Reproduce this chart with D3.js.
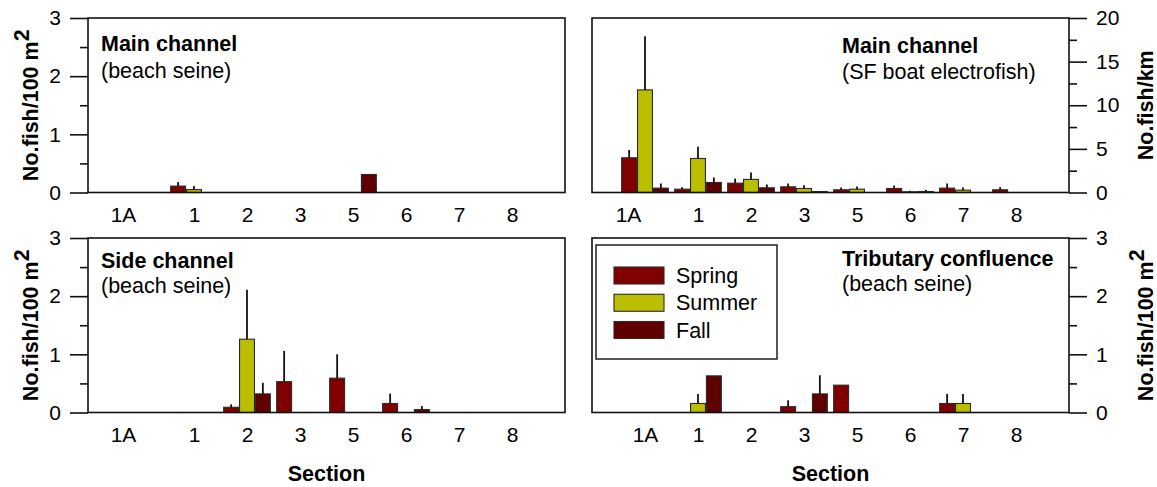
<!DOCTYPE html>
<html><head><meta charset="utf-8">
<script src="https://cdn.jsdelivr.net/npm/d3@7"></script>
<style>
body{margin:0;background:#fff}
svg{display:block}
text{font-family:"Liberation Sans",Arial,sans-serif;fill:#000}
</style>
</head><body>
<svg id="c" width="1157" height="487"></svg>
<script>
// ---------------- data ----------------
const categories = ["1A","1","2","3","5","6","7","8"];
const seasons = ["Spring","Summer","Fall"];
const seasonColors = ["#800000","#bcbf00","#5e0000"];

// Main channel (beach seine), No.fish/100 m2
const mainSeineSpring    = [0, 0.11, 0, 0, 0, 0, 0, 0];
const mainSeineSpringErr = [0, 0.07, 0, 0, 0, 0, 0, 0];
const mainSeineSummer    = [0, 0.05, 0, 0, 0, 0, 0, 0];
const mainSeineSummerErr = [0, 0.06, 0, 0, 0, 0, 0, 0];
const mainSeineFall      = [0, 0, 0, 0, 0.31, 0, 0, 0];
const mainSeineFallErr   = [0, 0, 0, 0, 0, 0, 0, 0];

// Main channel (SF boat electrofish), No.fish/km
const mainEfSpring    = [3.98, 0.38, 1.07, 0.65, 0.31, 0.46, 0.50, 0.31];
const mainEfSpringErr = [0.89, 0.23, 0.53, 0.38, 0.26, 0.34, 0.53, 0.30];
const mainEfSummer    = [11.76, 3.90, 1.50, 0.46, 0.38, 0.08, 0.27, 0];
const mainEfSummerErr = [6.14, 1.35, 0.80, 0.38, 0.31, 0.11, 0.30, 0];
const mainEfFall      = [0.50, 1.15, 0.54, 0.11, 0, 0.11, 0, 0];
const mainEfFallErr   = [0.53, 0.57, 0.38, 0.04, 0, 0.20, 0, 0];

// Side channel (beach seine), No.fish/100 m2
const sideSpring    = [0, 0, 0.09, 0.53, 0.59, 0.155, 0, 0];
const sideSpringErr = [0, 0, 0.05, 0.53, 0.41, 0.17, 0, 0];
const sideSummer    = [0, 0, 1.26, 0, 0, 0, 0, 0];
const sideSummerErr = [0, 0, 0.85, 0, 0, 0, 0, 0];
const sideFall      = [0, 0, 0.32, 0, 0, 0.05, 0, 0];
const sideFallErr   = [0, 0, 0.19, 0, 0, 0.06, 0, 0];

// Tributary confluence (beach seine), No.fish/100 m2
const tribSpring    = [0, 0, 0, 0.10, 0.47, 0, 0.155, 0];
const tribSpringErr = [0, 0, 0, 0.11, 0, 0, 0.165, 0];
const tribSummer    = [0, 0.155, 0, 0, 0, 0, 0.155, 0];
const tribSummerErr = [0, 0.165, 0, 0, 0, 0, 0.165, 0];
const tribFall      = [0, 0.63, 0, 0.32, 0, 0, 0, 0];
const tribFallErr   = [0, 0, 0, 0.32, 0, 0, 0, 0];

const densityTicks = [0, 1, 2, 3];
const densityMinor = [0.5, 1.5, 2.5];
const efTicks = [0, 5, 10, 15, 20];
const efMinor = [2.5, 7.5, 12.5, 17.5];

// ---------------- layout ----------------
const svg = d3.select("#c");
const FONT = 21.5;
const TICKFONT = 21;
const W = 477, H = 174.5;

const panels = [
  {x0: 88, y0: 18, side: "left", yMax: 3, ticks: densityTicks, minor: densityMinor,
   title: "Main channel", sub: "(beach seine)", tx: 101, tb: [51, 78], shift1A: -18,
   values: [mainSeineSpring, mainSeineSummer, mainSeineFall],
   errs: [mainSeineSpringErr, mainSeineSummerErr, mainSeineFallErr],
   ylabel: "density"},
  {x0: 592, y0: 18, side: "right", yMax: 20, ticks: efTicks, minor: efMinor,
   title: "Main channel", sub: "(SF boat electrofish)", tx: 842, tb: [53, 79], shift1A: -17,
   values: [mainEfSpring, mainEfSummer, mainEfFall],
   errs: [mainEfSpringErr, mainEfSummerErr, mainEfFallErr],
   ylabel: "km"},
  {x0: 88, y0: 238, side: "left", yMax: 3, ticks: densityTicks, minor: densityMinor,
   title: "Side channel", sub: "(beach seine)", tx: 101, tb: [268, 293], shift1A: -18,
   values: [sideSpring, sideSummer, sideFall],
   errs: [sideSpringErr, sideSummerErr, sideFallErr],
   ylabel: "density", section: true},
  {x0: 592, y0: 238, side: "right", yMax: 3, ticks: densityTicks, minor: densityMinor,
   title: "Tributary confluence", sub: "(beach seine)", tx: 842, tb: [266, 291], shift1A: 0,
   values: [tribSpring, tribSummer, tribFall],
   errs: [tribSpringErr, tribSummerErr, tribFallErr],
   ylabel: "density", section: true, legend: true}
];

function yLabel(g, kind, x, y) {
  const t = g.append("text")
    .attr("transform", `translate(${x},${y}) rotate(-90)`)
    .attr("text-anchor", "middle")
    .attr("font-weight", "bold")
    .attr("font-size", FONT);
  if (kind === "km") {
    t.text("No.fish/km");
  } else {
    t.append("tspan").text("No.fish/100 m");
    t.append("tspan").attr("dy", -9).text("2");
  }
}

panels.forEach(p => {
  const g = svg.append("g");
  const x = d3.scaleLinear().domain([0, categories.length + 1]).range([p.x0, p.x0 + W]);
  const y = d3.scaleLinear().domain([0, p.yMax]).range([p.y0 + H, p.y0]);
  const gw = x(0.88) - x(0);
  const sub = d3.scaleBand().domain(seasons).range([-gw / 2, gw / 2]).paddingInner(0.06);

  // bars
  seasons.forEach((s, si) => {
    const vals = p.values[si], errs = p.errs[si];
    const items = categories.map((c, i) => ({i, v: vals[i], e: errs[i]})).filter(d => d.v > 0);
    g.selectAll(null).data(items).enter().append("rect")
      .attr("x", d => x(d.i + 1) + sub(s))
      .attr("y", d => y(d.v))
      .attr("width", sub.bandwidth())
      .attr("height", d => y(0) - y(d.v))
      .attr("fill", seasonColors[si])
      .attr("stroke", "#2a2a2a")
      .attr("stroke-width", 1.1);
    g.selectAll(null).data(items.filter(d => d.e > 0)).enter().append("line")
      .attr("x1", d => x(d.i + 1) + sub(s) + sub.bandwidth() / 2)
      .attr("x2", d => x(d.i + 1) + sub(s) + sub.bandwidth() / 2)
      .attr("y1", d => y(d.v))
      .attr("y2", d => y(d.v + d.e))
      .attr("stroke", "#111")
      .attr("stroke-width", 1.8);
  });

  // frame
  g.append("rect").attr("x", p.x0).attr("y", p.y0).attr("width", W).attr("height", H)
    .attr("fill", "none").attr("stroke", "#111").attr("stroke-width", 1.6);

  // y axes
  const axisMaj = (p.side === "left" ? d3.axisLeft(y) : d3.axisRight(y))
    .tickValues(p.ticks).tickSize(18).tickPadding(9).tickFormat(d3.format("d"));
  const axisMin = (p.side === "left" ? d3.axisLeft(y) : d3.axisRight(y))
    .tickValues(p.minor).tickSize(8).tickFormat("");
  const ax = p.side === "left" ? p.x0 : p.x0 + W;
  [axisMaj, axisMin].forEach(a => {
    const ag = g.append("g").attr("transform", `translate(${ax},0)`).call(a);
    ag.select(".domain").remove();
    ag.selectAll("line").attr("stroke", "#111").attr("stroke-width", 1.6);
    ag.selectAll("text").attr("font-size", TICKFONT).attr("font-family", null).attr("fill", "#000");
  });

  // x axis labels
  const xa = d3.axisBottom(x).tickValues(d3.range(1, categories.length + 1))
    .tickFormat(i => categories[i - 1]).tickSize(0).tickPadding(15);
  const xg = g.append("g").attr("transform", `translate(0,${p.y0 + H})`).call(xa);
  xg.select(".domain").remove();
  xg.selectAll("text").attr("font-size", TICKFONT).attr("font-family", null).attr("fill", "#000")
    .attr("dx", d => d === 1 ? p.shift1A : 0);

  // titles
  g.append("text").attr("x", p.tx).attr("y", p.tb[0]).attr("font-weight", "bold")
    .attr("font-size", FONT).text(p.title);
  g.append("text").attr("x", p.tx).attr("y", p.tb[1]).attr("font-size", FONT).text(p.sub);

  // y labels
  if (p.side === "left") yLabel(g, p.ylabel, 38, p.y0 + H / 2);
  else yLabel(g, p.ylabel, 1153, p.y0 + H / 2);

  if (p.section) {
    g.append("text").attr("x", p.x0 + W / 2).attr("y", 481).attr("text-anchor", "middle")
      .attr("font-weight", "bold").attr("font-size", FONT).text("Section");
  }

  if (p.legend) {
    const lg = g.append("g");
    lg.append("rect").attr("x", 596).attr("y", 245).attr("width", 181).attr("height", 114)
      .attr("fill", "#fff").attr("stroke", "#111").attr("stroke-width", 1.4);
    const ly = d3.scalePoint().domain(seasons).range([275.5, 330]);
    seasons.forEach((s, si) => {
      lg.append("rect").attr("x", 614).attr("y", ly(s) - 8.5).attr("width", 50).attr("height", 17)
        .attr("fill", seasonColors[si]).attr("stroke", "#2a2a2a").attr("stroke-width", 1.1);
      lg.append("text").attr("x", 676).attr("y", ly(s) + 7.5).attr("font-size", FONT).text(s);
    });
  }
});
</script>
</body></html>
